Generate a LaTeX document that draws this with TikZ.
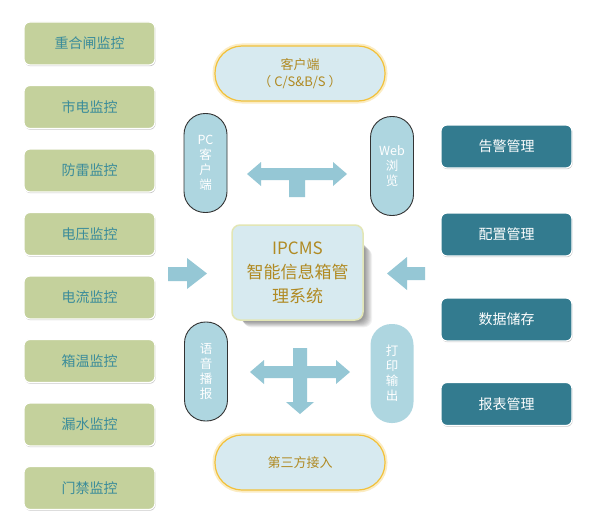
\documentclass[tikz,border=0pt]{standalone}
\usepackage{fontspec}
\setmainfont{Noto Sans CJK SC}
\usetikzlibrary{shadows}
\definecolor{greenf}{HTML}{C4D19C}
\definecolor{greent}{HTML}{3B8C9A}
\definecolor{darkf}{HTML}{337B8F}
\definecolor{pillf}{HTML}{AED6E0}
\definecolor{capf}{HTML}{D7EAF0}
\definecolor{capb}{HTML}{F2C13A}
\definecolor{goldt}{HTML}{B08A23}
\definecolor{centb}{HTML}{E2E6B5}
\definecolor{arrowf}{HTML}{95C7D5}
\begin{document}
\begin{tikzpicture}[x=1pt,y=-1pt,
  mon/.style={rectangle, rounded corners=6pt, minimum width=131pt, minimum height=43pt,
    fill=greenf, draw=white, line width=1.2pt, text=greent, font=\fontsize{14}{16}\selectfont,
    drop shadow={shadow xshift=0.6pt, shadow yshift=-1.2pt, opacity=0.45}},
  mgr/.style={rectangle, rounded corners=6pt, minimum width=131pt, minimum height=43pt,
    fill=darkf, draw=white, line width=1.2pt, text=white, font=\fontsize{14}{16}\selectfont,
    drop shadow={shadow xshift=0.6pt, shadow yshift=-1.2pt, opacity=0.45}},
  capsule/.style={rectangle, rounded corners=27pt, minimum width=170pt, minimum height=55pt,
    fill=capf, draw=capb, line width=1.2pt, text=goldt, align=center,
    font=\fontsize{13}{17}\selectfont,
    preaction={draw=capb, line width=5pt, opacity=0.3}},
  pill/.style={rectangle, rounded corners=21pt, minimum width=43pt, minimum height=99pt,
    fill=pillf, draw=black!80, line width=0.9pt, text=white, align=center,
    font=\fontsize{12.5}{15}\selectfont},
  pillnb/.style={pill, draw=none},
  centre/.style={rectangle, rounded corners=8pt, minimum width=131pt, minimum height=95pt,
    fill=capf, draw=centb, line width=1.5pt, text=goldt, align=center,
    font=\fontsize{17}{24}\selectfont},
  softshadow/.style={fill=black, opacity=0.05, rounded corners=8pt},
  blockarrow/.style={fill=arrowf}
]
\useasboundingbox[fill=white] (0,0) rectangle (594,527);

% left monitor boxes
\node[mon] (m1) at (89.5,43.5) {重合闸监控};
\node[mon] (m2) at (89.5,107) {市电监控};
\node[mon] (m3) at (89.5,170.5) {防雷监控};
\node[mon] (m4) at (89.5,234) {电压监控};
\node[mon] (m5) at (89.5,297.5) {电流监控};
\node[mon] (m6) at (89.5,361) {箱温监控};
\node[mon] (m7) at (89.5,424.5) {漏水监控};
\node[mon] (m8) at (89.5,488) {门禁监控};

% right management boxes
\node[mgr] (g1) at (506.5,146.5) {告警管理};
\node[mgr] (g2) at (506.5,234.5) {配置管理};
\node[mgr] (g3) at (506.5,319.5) {数据储存};
\node[mgr] (g4) at (506.5,404) {报表管理};

% capsules
\node[capsule] (client) at (300,73.5) {客户端\\（ C/S\&B/S ）};
\node[capsule] (third) at (300,462.5) {第三方接入};

% pills
\node[pill] (pc) at (205.5,163) {PC\\客\\户\\端};
\node[pill] (web) at (392,166) {Web\\浏\\览};
\node[pill] (voice) at (206,371.5) {语\\音\\播\\报};
\node[pillnb] (print) at (392,373.5) {打\\印\\输\\出};

% soft shadow of the centre box
\foreach \d in {1,...,9} {
  \fill[softshadow] (238+\d*0.6,240+\d*0.9) rectangle (364+\d*0.9,321+\d*0.7);
}
% centre
\node[centre] (core) at (297.5,272.5) {IPCMS\\智能信息箱管\\理系统};

% block arrows
\fill[blockarrow] (247,174) -- (261,162) -- (261,168) -- (333,168) -- (333,162) -- (347,174)
  -- (333,186) -- (333,180) -- (305,180) -- (305,197) -- (289,197) -- (289,180)
  -- (261,180) -- (261,186) -- cycle;
\fill[blockarrow] (250,372) -- (264,360) -- (264,366) -- (293,366) -- (293,348) -- (307,348)
  -- (307,366) -- (336,366) -- (336,360) -- (350,372) -- (336,384) -- (336,378)
  -- (307,378) -- (307,402) -- (314,402) -- (300,414) -- (286,402) -- (293,402)
  -- (293,378) -- (264,378) -- (264,384) -- cycle;
\fill[blockarrow] (168,267) -- (187,267) -- (187,258) -- (207,273.5) -- (187,289)
  -- (187,281) -- (168,281) -- cycle;
\fill[blockarrow] (425,267) -- (407,267) -- (407,257) -- (387,273.5) -- (407,290)
  -- (407,280) -- (425,280) -- cycle;
\end{tikzpicture}
\end{document}
